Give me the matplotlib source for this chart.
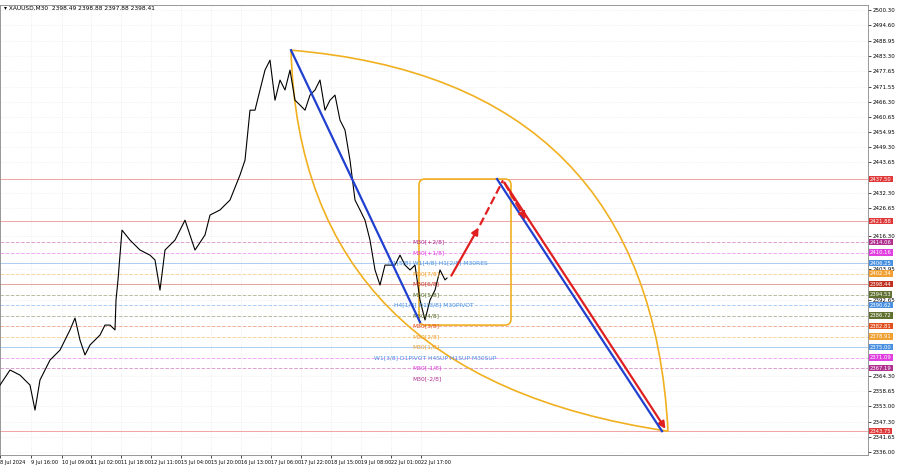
import matplotlib.pyplot as plt
import matplotlib.patches as patches
from matplotlib.path import Path

# price path (bar position, close)
bar_x = [0, 10, 20, 30, 35, 40, 50, 60, 70, 75, 80, 85, 90, 100, 105, 110, 115, 116,
         118, 122, 130, 140, 150, 155, 160, 165, 175, 185, 195, 205, 210, 220, 230, 240,
         245, 250, 255, 260, 265, 270, 275, 280, 285, 290, 295, 300, 305, 310, 315, 320,
         325, 330, 335, 340, 345, 350, 355, 360, 365, 370, 375, 380, 385, 390, 395, 400,
         405, 410, 415, 420, 425, 430, 435, 440, 445, 447]
closes = [2360.9, 2366.5, 2364.6, 2360.9, 2351.6, 2362.8, 2370.2, 2373.9, 2381.4, 2385.8,
          2377.6, 2372.1, 2375.8, 2379.5, 2383.2, 2383.2, 2381.4, 2392.5,
          2400.0, 2418.5, 2414.8, 2411.1, 2409.2, 2407.4, 2396.2, 2411.1, 2414.8, 2422.2,
          2411.1, 2416.7, 2424.1, 2426.0, 2429.7, 2439.0, 2444.5, 2463.1, 2463.1, 2470.6,
          2478.0, 2481.7, 2466.8, 2474.3, 2470.6, 2478.0, 2466.8, 2465.0, 2463.1, 2468.7,
          2470.6, 2474.3, 2463.1, 2466.8, 2468.7, 2459.4, 2455.7, 2444.5, 2429.7, 2426.0,
          2422.2, 2414.8, 2403.7, 2398.1, 2405.5, 2405.5, 2405.5, 2409.2, 2405.5, 2403.7,
          2405.5, 2392.5, 2385.1, 2392.5, 2396.2, 2403.7, 2400.0, 2400.7]

# horizontal levels: price, colour, style
levels = [2437.50, 2421.88, 2414.06, 2410.16, 2406.25, 2402.34, 2398.44, 2394.53,
          2390.62, 2386.72, 2382.81, 2378.91, 2375.00, 2371.09, 2367.19, 2343.75]
level_colors = ["#e03838", "#e03838", "#b03090", "#e040e0", "#4a90e0", "#f0a030",
                "#c03020", "#607030", "#4a90e0", "#607030", "#e05020", "#f0a030",
                "#4a90e0", "#e040e0", "#b03090", "#e03838"]
level_styles = ["-", "-", "--", "--", "-", "--", "-", "--", "--", "--", "--", "--",
                "-", "--", "--", "-"]

# murrey labels near price
label_texts = ["M30[+2/8]", "M30[+1/8]", "D1[5/8] W1[4/8] H1[2/8] M30RES", "M30[7/8]",
               "M30[6/8]", "M30[5/8]", "H4[1/8] D1[3/8] M30PIVOT", "M30[4/8]",
               "M30[3/8]", "M30[2/8]", "M30[1/8]", "W1[3/8] D1PIVOT H4SUP H1SUP M30SUP",
               "M30[-1/8]", "M30[-2/8]"]
label_prices = [2414.06, 2410.16, 2406.25, 2402.34, 2398.44, 2394.53, 2390.62, 2386.72,
                2382.81, 2378.91, 2375.00, 2371.09, 2367.19, 2363.3]
label_x = [412, 412, 388, 412, 412, 412, 394, 412, 412, 412, 412, 374, 412, 412]
label_colors = ["#b03090", "#e040e0", "#4a90e0", "#f0a030", "#c03020", "#607030",
                "#4a90e0", "#607030", "#e05020", "#f0a030", "#f0a030", "#4a90e0",
                "#e040e0", "#b03090"]

yticks = [2500.30, 2494.60, 2488.95, 2483.30, 2477.65, 2471.55, 2466.30, 2460.65,
          2454.95, 2449.30, 2443.65, 2432.30, 2426.65, 2416.3, 2403.95, 2392.65,
          2364.30, 2358.65, 2353.00, 2347.30, 2341.65, 2336.00]
xtick_pos = [0, 31, 62, 91, 121, 151, 181, 211, 241, 271, 301, 331, 361, 391, 421]
xtick_labels = ["8 Jul 2024", "9 Jul 16:00", "10 Jul 09:00", "11 Jul 02:00", "11 Jul 18:00",
                "12 Jul 11:00", "15 Jul 04:00", "15 Jul 20:00", "16 Jul 13:00",
                "17 Jul 06:00", "17 Jul 22:00", "18 Jul 15:00", "19 Jul 08:00",
                "22 Jul 01:00", "22 Jul 17:00"]

fig = plt.figure(figsize=(9, 4.68), dpi=100)
ax = fig.add_axes([0.0, 13 / 468, 868 / 900, 450 / 468])
ax.set_xlim(0, 868)
ax.set_ylim(2334.9, 2502.2)

for xp in xtick_pos:
    ax.axvline(xp, color="#e8e8e8", linestyle=":", linewidth=0.6, zorder=0)
for yp in yticks:
    ax.axhline(yp, color="#ececec", linestyle=":", linewidth=0.6, zorder=0)

for p, c, s in zip(levels, level_colors, level_styles):
    ax.axhline(p, color=c, linestyle=s, linewidth=0.7, alpha=0.45, zorder=1)

ax.plot(bar_x, closes, color="black", linewidth=0.8, zorder=3)

for t, p, xp, c in zip(label_texts, label_prices, label_x, label_colors):
    ax.text(xp, p, t, color=c, fontsize=4.3, va="center", zorder=4)

# orange lens
orange = "#f0b020"
for ctrl in [(650, 2474.3), (300, 2364.0)]:
    path = Path([(291, 2485.4), ctrl, (668, 2343.75)], [Path.MOVETO, Path.CURVE3, Path.CURVE3])
    ax.add_patch(patches.PathPatch(path, fill=False, edgecolor=orange, linewidth=1.2, zorder=2))
box = patches.FancyBboxPatch((419, 2383.2), 92, 54.3, boxstyle="round,pad=0,rounding_size=6",
                             fill=False, edgecolor=orange, linewidth=1.2,
                             mutation_aspect=0.37, zorder=2)
ax.add_patch(box)

# trend lines
ax.plot([291, 420], [2485.4, 2384.3], color="#2040d0", linewidth=1.6, zorder=5)
ax.plot([497, 662], [2437.5, 2343.75], color="#2040d0", linewidth=1.6, zorder=6)
ax.annotate("", xy=(667, 2343.75), xytext=(503, 2437.0),
            arrowprops=dict(arrowstyle="-|>", color="#e02020", lw=1.6), zorder=5)
ax.annotate("", xy=(480, 2420.4), xytext=(450, 2400.7),
            arrowprops=dict(arrowstyle="-|>", color="#e02020", lw=1.6), zorder=6)
ax.plot([480, 503], [2420.4, 2437.0], color="#e02020", linewidth=1.6, linestyle="--", zorder=6)
ax.annotate("", xy=(527, 2421.5), xytext=(503, 2437.0),
            arrowprops=dict(arrowstyle="-|>", color="#e02020", lw=1.6, linestyle="--"), zorder=6)

ax.yaxis.tick_right()
ax.set_yticks(yticks)
ax.set_yticklabels([f"{v:.2f}" for v in yticks], fontsize=4)
ax.set_xticks(xtick_pos)
ax.set_xticklabels(xtick_labels, fontsize=3.6, ha="left")
ax.tick_params(length=2, width=0.5, pad=1.5)
for sp in ax.spines.values():
    sp.set_linewidth(0.6)
    sp.set_color("#888888")

# tags for levels on the right
for p, c in zip(levels, level_colors):
    ax.text(870, p, f"{p:.2f}", fontsize=3.8, color="white", va="center", ha="left",
            bbox=dict(boxstyle="square,pad=0.15", fc=c, ec="none"), clip_on=False, zorder=7)

fig.text(0.004, 0.988, "\u25be XAUUSD,M30  2398.49 2398.88 2397.88 2398.41", fontsize=4.2,
         va="top")

fig.savefig("out.png", dpi=100)
